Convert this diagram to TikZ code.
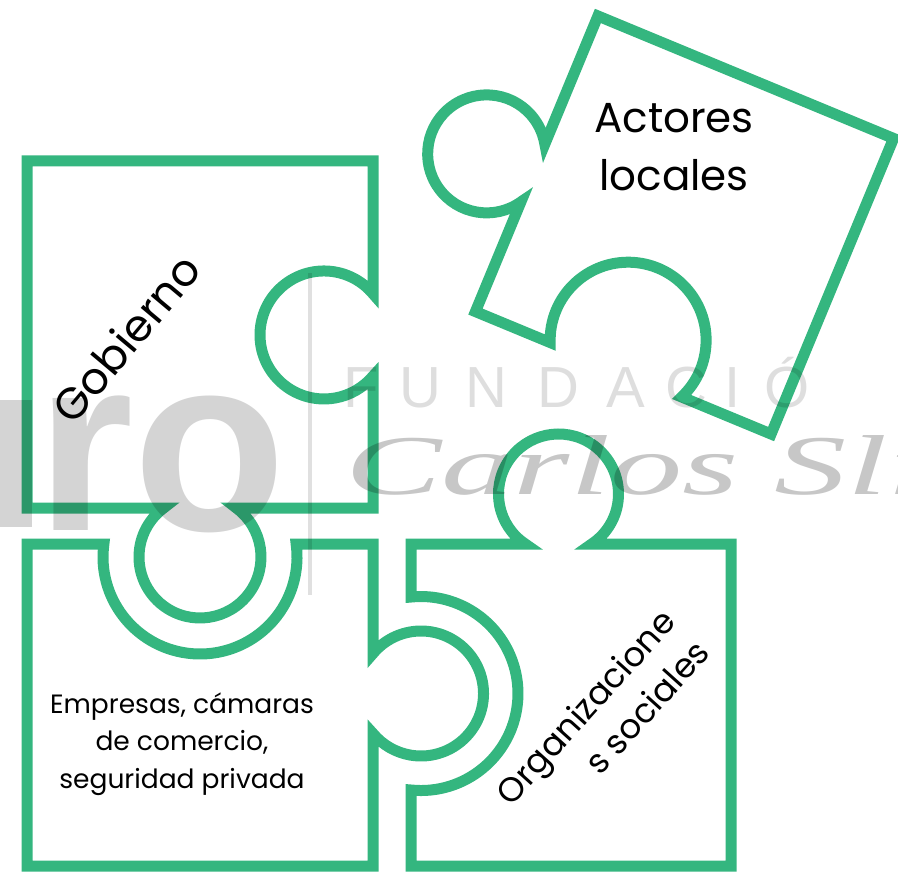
\documentclass[tikz,border=0pt]{standalone}
\usepackage{fontspec}
\setmainfont{Poppins}
\newfontfamily\wmfont{Liberation Sans}
\newfontfamily\sigfont{Liberation Serif}
\definecolor{pzgreen}{RGB}{52,182,127}
\begin{document}
\begin{tikzpicture}[x=1pt,y=-1pt,
  piece/.style={draw=pzgreen, line width=11pt, line join=miter},
  lbl/.style={text=black, inner sep=0pt},
  wmtext/.style={text=black, inner sep=0pt},
  wmletter/.style={text=black, text opacity=0.13, inner sep=0pt, anchor=base,
    font=\wmfont\fontsize{58}{58}\selectfont}]
\useasboundingbox (0,0) rectangle (898,872);

% Gobierno
\draw[piece] (27,161) -- (373,161) -- (373,293.8)
  arc[start angle=-40.04, end angle=-319.96, radius=64] -- (373,508)
  -- (236.33,508) arc[start angle=-53.44, end angle=233.44, radius=61]
  -- (27,508) -- cycle;

% Empresas
\draw[piece] (27,544) -- (103.9,544)
  arc[start angle=187.7, end angle=-7.7, radius=97] -- (373,544)
  -- (373,653.5) arc[start angle=-140.2, end angle=140.2, radius=62.5]
  -- (373,866) -- (27,866) -- cycle;

% Organizaciones
\draw[piece] (411,544) -- (525.33,544)
  arc[start angle=123.56, end angle=416.44, radius=60] -- (731,544)
  -- (731,866) -- (411,866) -- (411,790)
  arc[start angle=95.9, end angle=-95.9, radius=97] -- cycle;

% Actores locales
\begin{scope}[shift={(684.5,225)}, rotate=-22.5]
\draw[piece] (-160,-160) -- (160,-160) -- (160,160) -- (63.14,160)
  arc[start angle=24.22, end angle=-204.22, radius=78] -- (-160,160)
  -- (-160,41.32) arc[start angle=32.06, end angle=327.94, radius=59] -- cycle;
\end{scope}

% labels
\node[lbl, font=\fontsize{42}{58}\selectfont, align=center] (actores) at (674,147) {Actores\\locales};
\node[lbl, font=\fontsize{44}{48}\selectfont, rotate=50] (gobierno) at (126,338) {Gobierno};
\node[lbl, font=\fontsize{26.5}{37.5}\selectfont, align=center] (empresas) at (182,744) {Empresas, cámaras\\de comercio,\\seguridad privada};
\node[lbl, font=\fontsize{34}{46}\selectfont, align=right, rotate=48] (organizaciones) at (602,722) {Organizacione\\s sociales};

% watermark
\begin{scope}
\clip (0,0) rectangle (898,872);
\fill[black, opacity=0.17] (0,400) rectangle (32,527);
\node[wmtext, text opacity=0.17, anchor=base west, font=\wmfont\bfseries\fontsize{250}{250}\selectfont] (wmro) at (36,530) {ro};
\draw[black, opacity=0.12, line width=4pt] (310,273) -- (310,595);
\node[wmletter] (wf) at (361,407) {F};
\node[wmletter] (wu) at (420,407) {U};
\node[wmletter] (wn) at (486,407) {N};
\node[wmletter] (wd) at (558,407) {D};
\node[wmletter] (wa) at (626,407) {A};
\node[wmletter] (wc) at (686,407) {C};
\node[wmletter] (wi) at (733,407) {I};
\node[wmletter] (wo) at (787,407) {Ó};
\node[wmtext, text opacity=0.22, anchor=base west, font=\sigfont\itshape\fontsize{85}{85}\selectfont, xscale=1.7] (wscript) at (345,494) {Carlos Slim};
\end{scope}
\end{tikzpicture}
\end{document}
